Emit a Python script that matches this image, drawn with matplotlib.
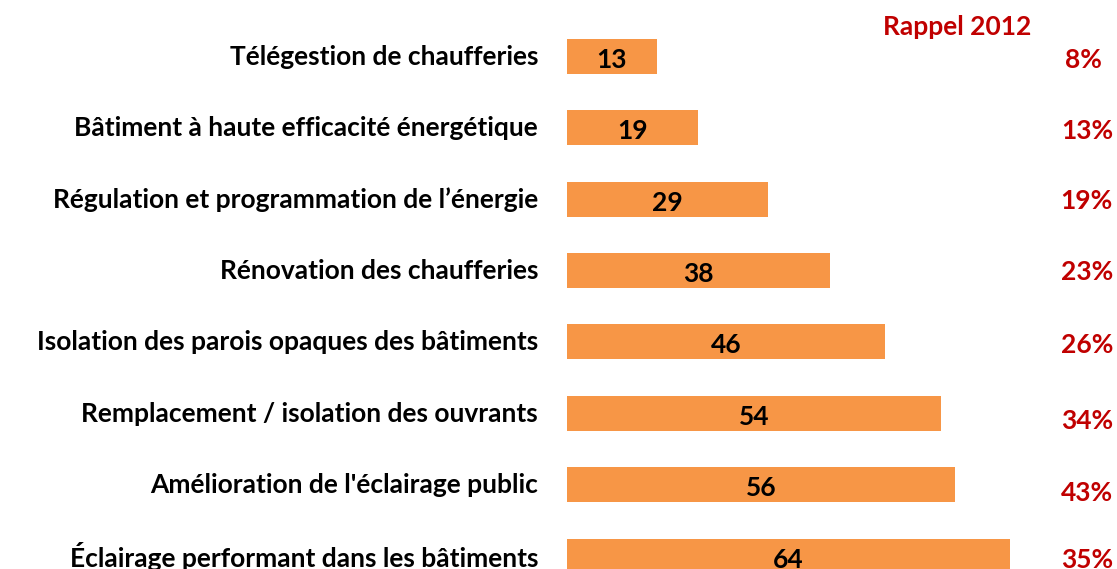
import matplotlib
matplotlib.use("Agg")
import matplotlib.pyplot as plt

categories = [
    "Télégestion de chaufferies",
    "Bâtiment à haute efficacité énergétique",
    "Régulation et programmation de l’énergie",
    "Rénovation des chaufferies",
    "Isolation des parois opaques des bâtiments",
    "Remplacement / isolation des ouvrants",
    "Amélioration de l'éclairage public",
    "Éclairage performant dans les bâtiments",
]
values_2014 = [13, 19, 29, 38, 46, 54, 56, 64]
rappel_2012 = ["8%", "13%", "19%", "23%", "26%", "34%", "43%", "35%"]
rappel_title = "Rappel 2012"

BAR = "#F79646"
RED = "#C00000"
FONT = "Lato"
FS = 19

W, H = 1117, 569
fig = plt.figure(figsize=(W / 100, H / 100), dpi=100)
ax = fig.add_axes([0, 0, 1, 1])

px_per_unit = 6.92
x0 = 567
ax.set_xlim(-x0 / px_per_unit, (W - x0) / px_per_unit)
row_px = 71.36
top_px = 56.5
ax.set_ylim((H - top_px) / row_px, -top_px / row_px)
ax.axis("off")

pos = list(range(len(categories)))
ax.barh(pos, values_2014, height=0.49, color=BAR, edgecolor="none")

xlab = (538 - x0) / px_per_unit
xred = (1113 - x0) / px_per_unit
dy = 3.5 / row_px
red_off = [3.5, 3, 2, 1.5, 3, 8, 8, 4]
red_x_off = [-11, 0, 0, 0, 0, 0, 0, 0]
for i, (c, v, r) in enumerate(zip(categories, values_2014, rappel_2012)):
    ax.text(xlab, i + 0.5 / row_px, c, ha="right", va="center", fontsize=FS,
            fontweight="bold", family=FONT, color="black")
    ax.text(v / 2, i + dy, str(v), ha="center", va="center", fontsize=FS,
            fontweight="bold", family=FONT, color="black")
    ax.text(xred + red_x_off[i] / px_per_unit, i + red_off[i] / row_px, r,
            ha="right", va="center", fontsize=FS,
            fontweight="bold", family=FONT, color=RED)

ax.text((957 - x0) / px_per_unit, -(top_px - 27) / row_px, rappel_title,
        ha="center", va="center", fontsize=FS, fontweight="bold", family=FONT, color=RED)

fig.savefig("out.png", dpi=100)
